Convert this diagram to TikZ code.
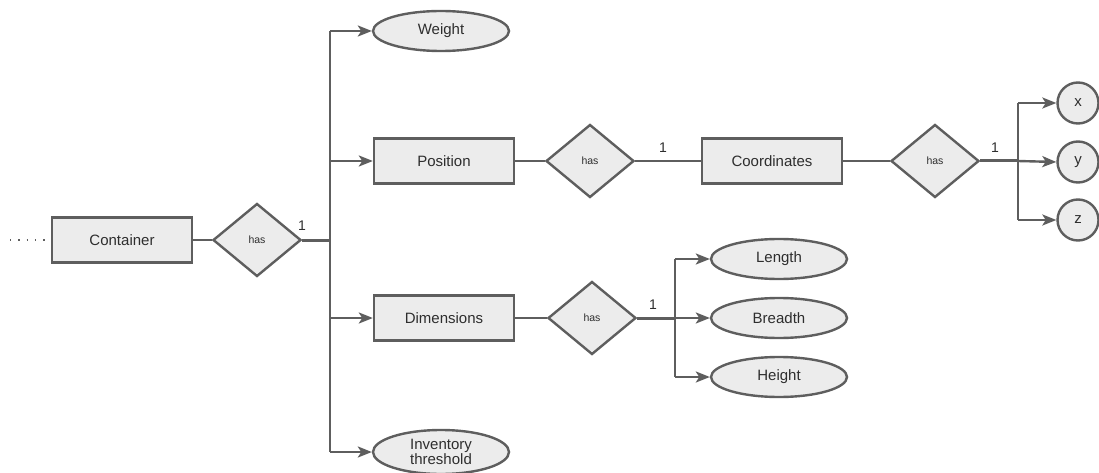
\documentclass[tikz,border=0pt]{standalone}
\usepackage{fontspec}
\setmainfont{Liberation Sans}
\usetikzlibrary{shapes.geometric,arrows.meta}
\definecolor{edge}{HTML}{5E5E5E}
\definecolor{boxfill}{HTML}{ECECEC}
\definecolor{ink}{HTML}{2E2E2E}
\tikzset{
  every node/.style={text=ink},
  link/.style={draw=edge,line width=2.4pt},
  boldlink/.style={draw=edge,line width=3pt},
  arr/.style={link,-{Stealth[length=14pt,width=11pt,inset=3.5pt]}},
  entity/.style={draw=edge,fill=boxfill,line width=2.4pt,rectangle,minimum width=140pt,minimum height=45pt,inner sep=0pt,font=\fontsize{15}{17}\selectfont},
  rel/.style={draw=edge,fill=boxfill,line width=2.4pt,diamond,minimum width=88pt,minimum height=73pt,inner sep=0pt,font=\fontsize{10.5}{12}\selectfont},
  attr/.style={draw=edge,fill=boxfill,line width=2.4pt,ellipse,minimum width=136pt,minimum height=40pt,inner sep=0pt,font=\fontsize{15}{17}\selectfont},
  coordattr/.style={draw=edge,fill=boxfill,line width=2.4pt,circle,minimum size=41pt,inner sep=0pt,font=\fontsize{15}{17}\selectfont},
  card/.style={font=\fontsize{14}{16}\selectfont,inner sep=0pt},
}
\begin{document}
\begin{tikzpicture}[x=1pt,y=-1pt]
\useasboundingbox (0,0) rectangle (1099,473);

% entities
\node[entity] (cont) at (122,240) {Container};
\node[entity] (pos) at (444,161) {Position};
\node[entity] (coord) at (772,161) {Coordinates};
\node[entity] (dim) at (444,318) {Dimensions};

% relationships
\node[rel] (h1) at (257,240) {has};
\node[rel] (h2) at (590,161) {has};
\node[rel] (h3) at (935,161) {has};
\node[rel] (h4) at (592,318) {has};

% attributes
\node[attr] (weight) at (441,31) {Weight};
\node[attr,minimum height=44pt,align=center,font=\fontsize{15}{15.5}\selectfont] (inv) at (441,452) {Inventory\\threshold};
\node[attr] (len) at (779,259) {Length};
\node[attr] (bre) at (779,318) {Breadth};
\node[attr] (hei) at (779,377) {Height};
\node[coordattr] (cx) at (1078,103) {x};
\node[coordattr] (cy) at (1078,162) {y};
\node[coordattr] (cz) at (1078,220) {z};

% junction points
\coordinate (j1) at (330,240);
\coordinate (j3) at (1018,161);
\coordinate (j4) at (675,318);
\coordinate (lead) at (10,240);

% cardinalities
\node[card] (n1) at (302,226) {1};
\node[card] (n2) at (663,148) {1};
\node[card] (n3) at (995,148) {1};
\node[card] (n4) at (653,305) {1};

% Container branch
\draw[edge,line width=1.3pt,dash pattern=on 1.3pt off 7pt] (lead) -- (cont.west);
\draw[link] (cont.east) -- (h1.west);
\draw[boldlink] (h1.east) -- (j1);
\draw[link] (weight.west -| j1) -- (inv.west -| j1);
\draw[arr] (weight.west -| j1) -- (weight.west);
\draw[arr] (pos.west -| j1) -- (pos.west);
\draw[arr] (dim.west -| j1) -- (dim.west);
\draw[arr] (inv.west -| j1) -- (inv.west);

% Position branch
\draw[link] (pos.east) -- (h2.west);
\draw[link] (h2.east) -- (coord.west);
\draw[link] (coord.east) -- (h3.west);
\draw[boldlink] (h3.east) -- (j3);
\draw[link] (cx.west -| j3) -- (cz.west -| j3);
\draw[arr] (cx.west -| j3) -- (cx.west);
\draw[arr] (j3) -- (cy.west);
\draw[arr] (cz.west -| j3) -- (cz.west);

% Dimensions branch
\draw[link] (dim.east) -- (h4.west);
\draw[boldlink] (h4.east) -- (j4);
\draw[link] (len.west -| j4) -- (hei.west -| j4);
\draw[arr] (len.west -| j4) -- (len.west);
\draw[arr] (j4) -- (bre.west);
\draw[arr] (hei.west -| j4) -- (hei.west);
\end{tikzpicture}
\end{document}
